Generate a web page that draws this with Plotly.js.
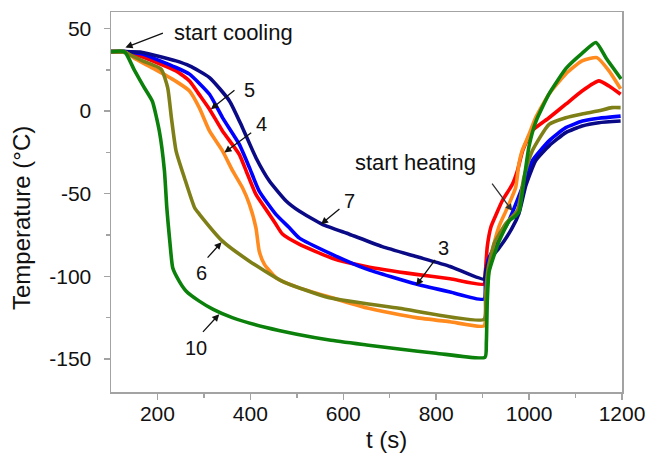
<!DOCTYPE html>
<html>
<head>
<meta charset="utf-8">
<script src="https://cdn.plot.ly/plotly-3.0.1.min.js"></script>
<style>
  html, body { margin: 0; padding: 0; background: #fff; }
  #chart { width: 650px; height: 457px; }
</style>
</head>
<body>
<div id="chart"></div>
<script>
// Temperature histories (time in s, temperature in °C) for each run
const run3Time = [100, 129, 168, 240, 269, 312, 340, 376, 398, 419, 455, 484, 505, 576, 649, 757, 830, 903, 906, 912, 935, 957, 985, 1007, 1043, 1079, 1115, 1150, 1197];
const run3Temp = [36, 36, 34.5, 26.4, 22.4, 10.2, -3.9, -20, -34.2, -48.4, -62.5, -70.6, -76.7, -86.7, -95.5, -104.7, -109.5, -113.8, -102, -90, -77, -66, -46.5, -30, -18, -10, -6, -4.3, -3];

const run5Time = [100, 129, 161, 240, 269, 290, 312, 340, 376, 391, 412, 441, 455, 469, 505, 576, 649, 757, 830, 903, 906, 910, 918, 930, 942, 964, 975, 986, 1006, 1043, 1079, 1114, 1150, 1172, 1197];
const run5Temp = [36, 36, 33.5, 24.4, 18.3, 10, 1.2, -12, -26.1, -36.2, -50.4, -62.5, -68.5, -74.4, -80.5, -89, -94, -98.8, -101.5, -104.7, -97, -82, -70, -62, -54.4, -44.3, -36, -24, -12, -4, 4.2, 12.2, 18.3, 15.2, 10.2];

const run7Time = [100, 129, 168, 240, 269, 312, 355, 383, 412, 441, 477, 505, 555, 613, 684, 757, 830, 903, 907, 915, 935, 963, 978, 993, 1014, 1043, 1079, 1114, 1150, 1197];
const run7Temp = [36, 36, 35.5, 30.4, 27.4, 20.3, 6.2, -10, -28.2, -42.3, -54.4, -60.5, -68.5, -74.5, -82, -88, -94, -101.7, -96, -90, -83, -71, -62, -45, -30, -21, -13, -9, -7, -6];

const run4Time = [100, 129, 150, 190, 240, 269, 290, 312, 340, 362, 383, 398, 412, 419, 430, 456, 505, 576, 649, 757, 830, 903, 907, 912, 921, 935, 950, 971, 978, 985, 1000, 1014, 1043, 1079, 1114, 1146, 1172, 1197];
const run4Temp = [36, 36, 32, 26, 18, 12.2, 2.1, -12, -24.1, -36.2, -46.4, -56.4, -70.6, -84.7, -92.6, -101, -107, -113, -119, -125, -127.5, -130, -118, -100, -84.7, -70, -60.5, -46.4, -32, -24, -14, -4, 10.4, 22.5, 30.4, 32.4, 24.4, 13.5];

const run6Time = [100, 129, 168, 208, 222, 230, 240, 258, 280, 290, 340, 398, 469, 570, 720, 903, 906, 912, 925, 950, 975, 989, 1007, 1043, 1079, 1114, 1150, 1178, 1197];
const run6Temp = [36, 35.5, 30.4, 25.4, 14.2, -4, -24, -40.3, -58.5, -62.3, -78.7, -90.8, -103, -113, -119.3, -126, -112, -95, -80, -68, -60, -40, -24, -8, -4, -1.7, 0.2, 2.1, 2.1];

const run10Time = [100, 129, 150, 170, 189, 204, 215, 220, 223, 227, 233, 247, 262, 290, 320, 361, 434, 500, 570, 650, 720, 800, 905, 908, 910, 914, 935, 957, 971, 979, 986, 1000, 1015, 1043, 1080, 1114, 1144, 1166, 1198];
const run10Temp = [36, 36, 25, 15, 6, -12, -36, -58, -68, -80, -95, -103, -109, -115, -120, -125, -131, -135, -138.5, -141.5, -144, -146.5, -149, -140, -115, -97, -79, -66.5, -63.5, -60.5, -48, -21, -6, 10.5, 26, 35, 41.5, 32, 19.5];

// Axis ticks
const xTickVals = [200, 400, 600, 800, 1000, 1200];
const xTickText = ['200', '400', '600', '800', '1000', '1200'];
const xMinorVals = [300, 500, 700, 900, 1100];
const yTickVals = [-150, -100, -50, 0, 50];
const yTickText = ['-150', '-100', '-50', '0', '50'];
const yMinorVals = [-125, -75, -25, 25];

const FONT = 'Liberation Sans, Arial, sans-serif';
const AXIS_GREY = '#a3a3a3';

function run(t, T, color) {
  return {
    x: t, y: T, type: 'scatter', mode: 'lines',
    line: { color: color, width: 3.6, shape: 'spline', smoothing: 0.5 },
    hoverinfo: 'skip', showlegend: false
  };
}

const traces = [
  run(run5Time, run5Temp, '#ff0000'),
  run(run3Time, run3Temp, '#0000ff'),
  run(run7Time, run7Temp, '#0a0a86'),
  run(run4Time, run4Temp, '#ff8a1e'),
  run(run6Time, run6Temp, '#7f7f18'),
  run(run10Time, run10Temp, '#0b800b')
];

function label(text, x, y, size) {
  return {
    x: x, y: y, xref: 'x', yref: 'y', text: text, showarrow: false,
    font: { family: FONT, size: size, color: '#111' },
    xanchor: 'center', yanchor: 'middle'
  };
}
function pointer(x0, y0, x1, y1, color) {
  return {
    x: x1, y: y1, ax: x0, ay: y0, xref: 'x', yref: 'y', axref: 'x', ayref: 'y',
    text: '', showarrow: true, arrowhead: 2, arrowsize: 1.1, arrowwidth: 1.3,
    arrowcolor: color || '#111', standoff: 0, startstandoff: 0
  };
}

const annotations = [
  label('start cooling', 363, 47.4, 22),
  pointer(215, 47.6, 131, 38.5),
  label('start heating', 755, -30.8, 22),
  pointer(918, -42.9, 964, -60.5, '#333'),
  label('5', 399, 12.7, 20),
  pointer(369, 13.3, 315, 1.2),
  label('4', 424, -7.9, 20),
  pointer(405, -12.4, 344, -25.1),
  label('7', 613, -54.5, 20),
  pointer(595, -58.5, 552, -68.5),
  label('3', 816, -83.1, 20),
  pointer(800, -89.1, 757, -105.5),
  label('6', 295, -98.1, 20),
  pointer(305, -89.6, 338, -79.3),
  label('10', 284, -143.6, 20),
  pointer(295, -134.5, 333, -122.9),
  // axis titles
  {
    x: -0.174, y: 0.458, xref: 'paper', yref: 'paper', text: 'Temperature (°C)',
    showarrow: false, textangle: -90, xanchor: 'center', yanchor: 'middle',
    font: { family: FONT, size: 24, color: '#111' }
  },
  {
    x: 692, y: -0.125, xref: 'x', yref: 'paper', text: 't (s)',
    showarrow: false, xanchor: 'center', yanchor: 'middle',
    font: { family: FONT, size: 24, color: '#111' }
  }
];

const axisCommon = {
  showgrid: false, zeroline: false,
  showline: true, linecolor: AXIS_GREY, linewidth: 1.5, mirror: true,
  ticks: 'outside', ticklen: 6, tickwidth: 1.5, tickcolor: AXIS_GREY,
  tickmode: 'array',
  tickfont: { family: FONT, size: 21, color: '#111' }
};

const layout = {
  width: 650, height: 457,
  margin: { l: 111, r: 28, t: 12, b: 65 },
  paper_bgcolor: '#fff', plot_bgcolor: '#fff',
  xaxis: Object.assign({}, axisCommon, {
    range: [100, 1200], tickvals: xTickVals, ticktext: xTickText,
    ticklabelstandoff: -4,
    minor: { tickmode: 'array', tickvals: xMinorVals, ticks: 'outside', ticklen: 4, tickwidth: 1.5, tickcolor: AXIS_GREY }
  }),
  yaxis: Object.assign({}, axisCommon, {
    range: [-170, 60], tickvals: yTickVals, ticktext: yTickText,
    ticklabelstandoff: 8,
    minor: { tickmode: 'array', tickvals: yMinorVals, ticks: 'outside', ticklen: 4, tickwidth: 1.5, tickcolor: AXIS_GREY }
  }),
  annotations: annotations
};

Plotly.newPlot('chart', traces, layout, { displayModeBar: false, staticPlot: true });
</script>
</body>
</html>
